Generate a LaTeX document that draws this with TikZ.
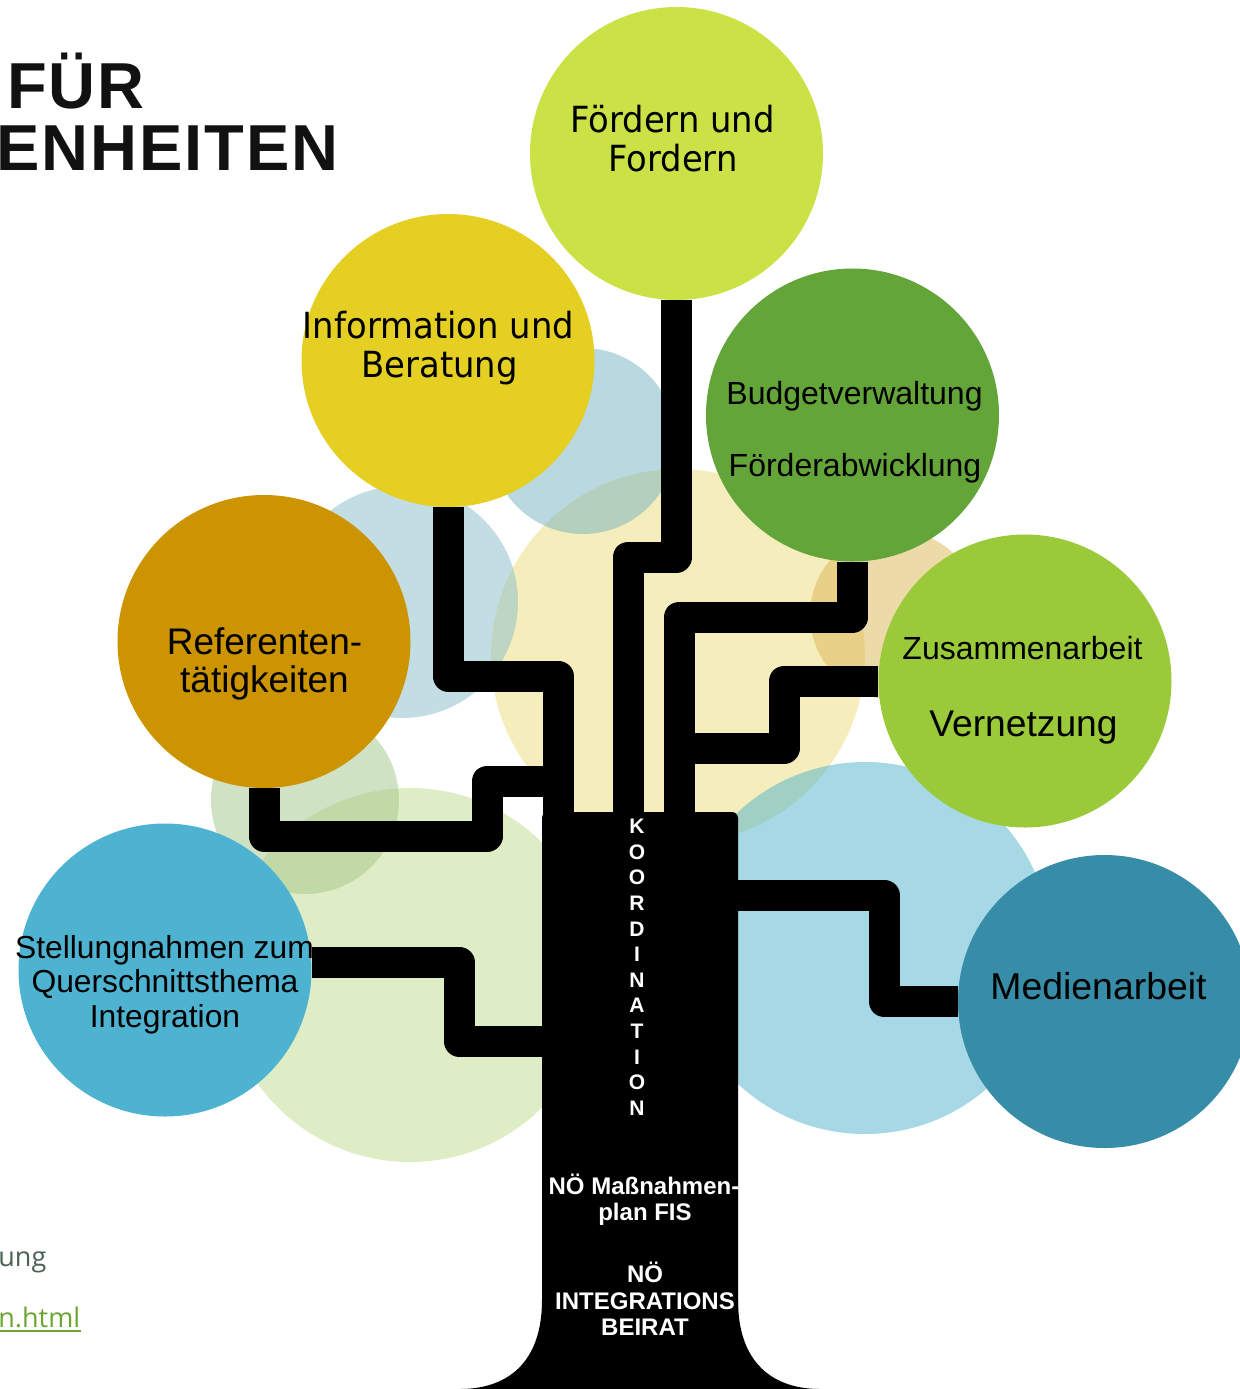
\documentclass[tikz,border=0pt]{standalone}
\usepackage{fontspec}
\setmainfont{Liberation Sans}
\newfontfamily\vera{DejaVu Sans}[FakeStretch=0.94]
\newfontfamily\opensans{Open Sans}
\newfontfamily\titulo{Liberation Sans}[LetterSpace=3]

\definecolor{corFoe}{RGB}{203,226,70}
\definecolor{corInfo}{RGB}{228,207,34}
\definecolor{corBud}{RGB}{99,165,57}
\definecolor{corRef}{RGB}{204,148,0}
\definecolor{corZus}{RGB}{154,202,58}
\definecolor{corStel}{RGB}{78,179,208}
\definecolor{corMed}{RGB}{55,141,168}
\definecolor{fundoA}{RGB}{115,177,191}
\definecolor{fundoB}{RGB}{133,189,201}
\definecolor{fundoC}{RGB}{161,197,137}
\definecolor{fundoD}{RGB}{191,219,141}
\definecolor{fundoE}{RGB}{235,221,121}
\definecolor{fundoF}{RGB}{219,181,83}
\definecolor{fundoG}{RGB}{77,177,205}
\definecolor{corTitulo}{RGB}{17,17,17}
\definecolor{corCinza}{RGB}{77,98,85}
\definecolor{corLink}{RGB}{107,165,50}

\begin{document}
\begin{tikzpicture}[x=0.5pt, y=-0.5pt,
  bola/.style={circle, minimum size=146.5pt, inner sep=0pt},
  galho/.style={line width=15.5pt, line join=round},
  rotulo/.style={anchor=base, inner sep=0pt},
  branco/.style={anchor=base, inner sep=0pt, text=white, font=\bfseries\fontsize{12}{13}\selectfont}]
\clip (0,0) rectangle (1240,1389);

% Circulos de fundo
\fill[fundoE, fill opacity=0.5] (678,656) circle (187);
\fill[fundoD, fill opacity=0.5] (410,975) circle (187);
\fill[fundoG, fill opacity=0.5] (865,948) circle (186);
\fill[fundoA, fill opacity=0.5] (583,441) circle (93);
\fill[fundoB, fill opacity=0.5] (402,602) circle (116);
\fill[fundoC, fill opacity=0.5] (305,800) circle (94);
\fill[fundoF, fill opacity=0.5] (895,615) circle (85);

% Circulos
\node[bola, fill=corFoe] (foe) at (676.5,153.5) {};
\node[bola, fill=corInfo] (info) at (448,360.5) {};
\node[bola, fill=corBud] (bud) at (852.5,415) {};
\node[bola, fill=corRef] (ref) at (264,641.5) {};
\node[bola, fill=corZus] (zus) at (1025,681) {};
\node[bola, fill=corStel] (stel) at (165,970) {};
\node[bola, fill=corMed] (med) at (1104.5,1001.5) {};

% Tronco
\fill[rounded corners=3pt] (542,812) rectangle (738,1320);
\fill (542,1300) .. controls (542,1365) and (505,1389) .. (460,1389) -- (820,1389) .. controls (775,1389) and (738,1365) .. (738,1300) -- cycle;
\coordinate (tfoe) at (628,820);
\coordinate (tinfo) at (558,820);
\coordinate (tbud) at (679,820);
\coordinate (tmed) at (730,895);
\coordinate (tstel) at (550,1041);
\coordinate (jinfo) at (558,781);
\coordinate (jbud) at (679,748);

% Galhos
\draw[galho] (foe.south) -- (676.5,557) -- (628,557) -- (tfoe);
\draw[galho] (info.south) -- (448,676) -- (558,676) -- (tinfo);
\draw[galho] (bud.south) -- (852.5,617) -- (679,617) -- (tbud);
\draw[galho] (ref.south) -- (264,836) -- (487,836) -- (487,781) -- (jinfo);
\draw[galho] (zus.west) -- (784,681) -- (784,748) -- (jbud);
\draw[galho] ([yshift=4pt]stel.east) -- (459,962) -- (459,1041) -- (tstel);
\draw[galho] (tmed) -- (884,895) -- (884,1001.5) -- (med.west);

% Textos dos circulos
\node[rotulo, font=\vera\fontsize{18}{20}\selectfont] (foe1) at (672.5,132) {Fördern und};
\node[rotulo, font=\vera\fontsize{18}{20}\selectfont] (foe2) at (673,171) {Fordern};
\node[rotulo, font=\vera\fontsize{18}{20}\selectfont] (info1) at (438.5,338) {Information und};
\node[rotulo, font=\vera\fontsize{18}{20}\selectfont] (info2) at (439.5,377) {Beratung};
\node[rotulo, font=\fontsize{16}{18}\selectfont] (bud1) at (854.5,404) {Budgetverwaltung};
\node[rotulo, font=\fontsize{16}{18}\selectfont] (bud2) at (855,476) {Förderabwicklung};
\node[rotulo, font=\fontsize{16}{18}\selectfont] (zus1) at (1022.5,659) {Zusammenarbeit};
\node[rotulo, font=\fontsize{18.6}{20}\selectfont] (zus2) at (1023.5,736) {Vernetzung};
\node[rotulo, font=\fontsize{18.7}{20}\selectfont] (med1) at (1098.5,999) {Medienarbeit};
\node[rotulo, font=\fontsize{18.5}{20}\selectfont] (ref1) at (264.5,654) {Referenten-};
\node[rotulo, font=\fontsize{18.5}{20}\selectfont] (ref2) at (264.5,692) {tätigkeiten};
\node[rotulo, font=\fontsize{15.9}{17}\selectfont] (stel1) at (164.5,958) {Stellungnahmen zum};
\node[rotulo, font=\fontsize{15.9}{17}\selectfont] (stel2) at (165,992.5) {Querschnittsthema};
\node[rotulo, font=\fontsize{15.9}{17}\selectfont] (stel3) at (165,1027) {Integration};

% Textos do tronco
\foreach \l [count=\i from 0] in {K,O,O,R,D,I,N,A,T,I,O,N}
  \node[branco, font=\bfseries\fontsize{10.5}{12}\selectfont] (koord\i) at (637,{833.5+25.63*\i}) {\l};
\node[branco] (plan1) at (644,1194.5) {NÖ Maßnahmen-};
\node[branco] (plan2) at (645,1220) {plan FIS};
\node[branco] (beirat1) at (645,1282) {NÖ};
\node[branco] (beirat2) at (645,1309) {INTEGRATIONS};
\node[branco] (beirat3) at (645,1335) {BEIRAT};

% Titulo e rodape
\node[anchor=base west, inner sep=0pt, text=corTitulo, font=\titulo\bfseries\fontsize{32.5}{36}\selectfont] (tit1) at (7,108) {FÜR};
\node[anchor=base west, inner sep=0pt, text=corTitulo, font=\titulo\bfseries\fontsize{32.5}{36}\selectfont] (tit2) at (-4,170) {ENHEITEN};
\node[anchor=base west, inner sep=0pt, text=corCinza, font=\opensans\fontsize{13.5}{16}\selectfont] (rod1) at (-2,1266) {ung};
\node[anchor=base west, inner sep=0pt, text=corLink, font=\opensans\fontsize{13.5}{16}\selectfont] (rod2) at (-2,1327) {n.html};
\draw[corLink, line width=1pt] ([yshift=-2pt]rod2.base west) -- ([yshift=-2pt]rod2.base east);
\end{tikzpicture}
\end{document}
